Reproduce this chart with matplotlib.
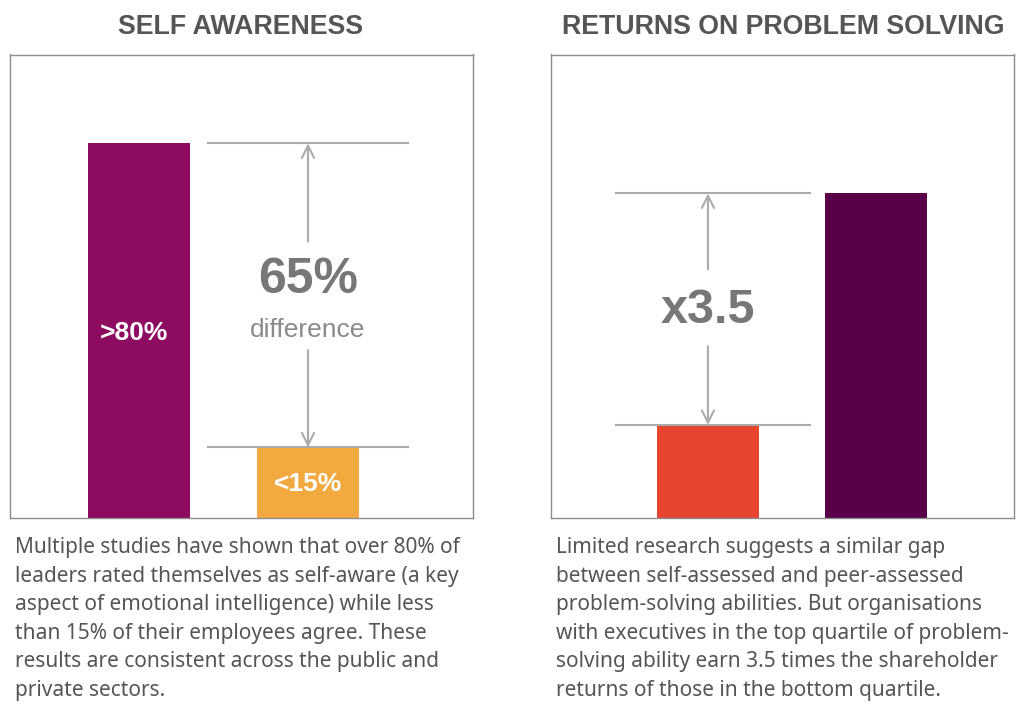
import matplotlib
matplotlib.use("Agg")
import matplotlib.pyplot as plt

# --- Datos ---
titulos = ["SELF AWARENESS", "RETURNS ON PROBLEM SOLVING"]

aw_valores = [80, 15]
aw_etiquetas = [">80%", "<15%"]
aw_colores = ["#8E0B62", "#F2A93F"]
aw_dif = "65%"

ps_valores = [1.0, 3.5]
ps_colores = ["#E84530", "#5A004B"]
ps_ratio = "x3.5"

textos = [
    "Multiple studies have shown that over 80% of\n"
    "leaders rated themselves as self-aware (a key\n"
    "aspect of emotional intelligence) while less\n"
    "than 15% of their employees agree. These\n"
    "results are consistent across the public and\n"
    "private sectors.",
    "Limited research suggests a similar gap\n"
    "between self-assessed and peer-assessed\n"
    "problem-solving abilities. But organisations\n"
    "with executives in the top quartile of problem-\n"
    "solving ability earn 3.5 times the shareholder\n"
    "returns of those in the bottom quartile.",
]

GRIS_LINEA = "#ABABAB"
GRIS_TXT = "#777777"
GRIS_TITULO = "#555555"

W, H = 1024, 713
fig = plt.figure(figsize=(W / 100, H / 100), dpi=100)


def caja(x0, y0, x1, y1):
    # pixeles (desde arriba) -> fraccion de figura
    return [x0 / W, 1 - y1 / H, (x1 - x0) / W, (y1 - y0) / H]


def estilo(ax):
    ax.set_xticks([])
    ax.set_yticks([])
    for s in ax.spines.values():
        s.set_color("#8C8C8C")
        s.set_linewidth(1.0)


def flecha(ax, x, y_desde, y_hasta):
    ax.annotate("", xy=(x, y_hasta), xytext=(x, y_desde),
                arrowprops=dict(arrowstyle="->", color=GRIS_LINEA, lw=1.5,
                                mutation_scale=22, shrinkA=0, shrinkB=0))


# --- Panel izquierdo ---
ax1 = fig.add_axes(caja(9.5, 54.5, 472.5, 517.5))
ax1.bar([0, 1], aw_valores, width=0.607, color=aw_colores)
ax1.set_xlim(-0.766, 1.973)
ax1.set_ylim(0, 99)
estilo(ax1)
ax1.text(-0.03, 39.5, aw_etiquetas[0], ha="center", va="center",
         color="white", fontsize=19, fontweight="bold",
         family="Liberation Sans")
ax1.text(1.0, 7.2, aw_etiquetas[1], ha="center", va="center",
         color="white", fontsize=19, fontweight="bold",
         family="Liberation Sans")
ax1.hlines(aw_valores, 0.4, 1.6, color=GRIS_LINEA, lw=1.5)
flecha(ax1, 1.0, 59, aw_valores[0])
flecha(ax1, 1.0, 35.8, aw_valores[1])
ax1.text(1.0, 50.8, aw_dif, ha="center", va="center", color=GRIS_TXT,
         fontsize=36, fontweight="bold", family="Liberation Sans")
ax1.text(1.0, 40.0, "difference", ha="center", va="center", color="#8A8A8A",
         fontsize=19, family="Liberation Sans")

# --- Panel derecho ---
ax2 = fig.add_axes(caja(550.7, 54.5, 1014, 517.5))
ax2.bar([0, 1], ps_valores, width=0.61, color=ps_colores)
ax2.set_xlim(-0.937, 1.824)
ax2.set_ylim(0, 5)
estilo(ax2)
ax2.hlines(ps_valores, -0.554, 0.612, color=GRIS_LINEA, lw=1.5)
flecha(ax2, 0.0, 2.68, ps_valores[1])
flecha(ax2, 0.0, 1.85, ps_valores[0])
ax2.text(0.0, 2.24, ps_ratio, ha="center", va="center", color=GRIS_TXT,
         fontsize=35, fontweight="bold", family="Liberation Sans")

# --- Titulos y textos ---
for xc, t in zip([241, 783], titulos):
    fig.text(xc / W, 1 - 27 / H, t, ha="center", va="center",
             color=GRIS_TITULO, fontsize=19.3, fontweight="bold",
             family="Liberation Sans")

for x0, t in zip([15, 556], textos):
    fig.text(x0 / W, 1 - 537 / H, t, ha="left", va="top", color="#555555",
             fontsize=15, family="Noto Sans", linespacing=1.47)

fig.savefig("out.png", dpi=100)
